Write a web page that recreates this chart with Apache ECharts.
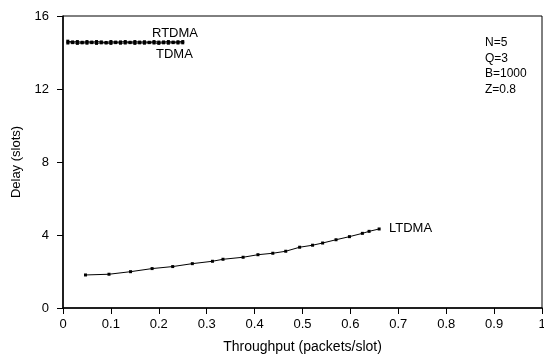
<!DOCTYPE html>
<html><head><meta charset="utf-8">
<script src="https://cdn.jsdelivr.net/npm/echarts@6/dist/echarts.min.js"></script>
<style>html,body{margin:0;padding:0;background:#fff}#c{width:544px;height:358px}</style>
</head><body><div id="c"></div>
<script>
const xTicks = [0,0.1,0.2,0.3,0.4,0.5,0.6,0.7,0.8,0.9,1];
const yTicks = [0,4,8,12,16];
const rtdmaX = [0.01,0.02,0.03,0.04,0.05,0.06,0.07,0.08,0.09,0.10,0.11,0.12,0.13,0.14,0.15,0.16,0.17,0.18,0.19,0.20,0.21,0.22,0.23,0.24,0.25];
const rtdmaY = [14.62,14.58,14.6,14.56,14.6,14.57,14.6,14.58,14.55,14.6,14.57,14.58,14.6,14.56,14.6,14.57,14.59,14.56,14.6,14.57,14.58,14.6,14.57,14.59,14.6];
const tdmaX = [0.01,0.02,0.03,0.04,0.05,0.06,0.07,0.08,0.09,0.10,0.11,0.12,0.13,0.14,0.15,0.16,0.17,0.18,0.19,0.20,0.21,0.22,0.23,0.24,0.25];
const tdmaY = [14.52,14.54,14.5,14.53,14.51,14.54,14.5,14.53,14.52,14.5,14.54,14.51,14.52,14.54,14.5,14.53,14.51,14.54,14.52,14.5,14.53,14.51,14.54,14.52,14.53];
const ltdmaX = [0.047,0.096,0.141,0.186,0.229,0.270,0.312,0.334,0.376,0.407,0.438,0.465,0.494,0.521,0.542,0.570,0.598,0.625,0.639,0.660];
const ltdmaY = [1.81,1.85,1.99,2.16,2.27,2.43,2.56,2.67,2.78,2.92,3.0,3.11,3.33,3.44,3.56,3.74,3.91,4.09,4.2,4.33];
const params = ['N=5','Q=3','B=1000','Z=0.8'];
const zip = (a,b)=>a.map((v,i)=>[v,b[i]]);
const font = 'Liberation Sans, Arial, sans-serif';
const chart = echarts.init(document.getElementById('c'));
const lineS = (name, xs, ys) => ({
  name, type:'line', data: zip(xs,ys), symbol:'rect', symbolSize:3,
  lineStyle:{color:'#000',width:1}, itemStyle:{color:'#000'}, animation:false, smooth:false
});
chart.setOption({
  animation:false,
  grid:{left:63,right:2,top:16,bottom:50,show:true,borderColor:'#000',borderWidth:1,
    containLabel:false,outerBoundsMode:'none'},
  xAxis:{type:'value',min:0,max:1,interval:0.1,
    axisLine:{lineStyle:{color:'#000',width:1.5}},
    axisTick:{show:true,length:6,lineStyle:{color:'#000'}},
    splitLine:{show:false},
    axisLabel:{color:'#000',fontFamily:font,fontSize:13,margin:10,hideOverlap:false,
      formatter:v=>{const t=xTicks.find(x=>Math.abs(x-v)<1e-9);return t===undefined?'':String(t);}},
    name:'Throughput (packets/slot)',nameLocation:'middle',nameGap:32,
    nameTextStyle:{color:'#000',fontFamily:font,fontSize:14}},
  yAxis:{type:'value',min:0,max:16,interval:4,
    axisLine:{lineStyle:{color:'#000',width:1.5}},
    axisTick:{show:true,length:6,lineStyle:{color:'#000'}},
    splitLine:{show:false},
    axisLabel:{color:'#000',fontFamily:font,fontSize:13,margin:14,
      formatter:v=>yTicks.includes(v)?String(v):''},
    name:'Delay (slots)',nameLocation:'middle',nameGap:40,
    nameTextStyle:{color:'#000',fontFamily:font,fontSize:13}},
  series:[lineS('RTDMA',rtdmaX,rtdmaY),lineS('TDMA',tdmaX,tdmaY),lineS('LTDMA',ltdmaX,ltdmaY)],
  graphic:[
    {type:'text',left:152,top:27,style:{text:'RTDMA',fill:'#000',font:'13px '+font}},
    {type:'text',left:156,top:48,style:{text:'TDMA',fill:'#000',font:'13px '+font}},
    {type:'text',left:389,top:222,style:{text:'LTDMA',fill:'#000',font:'13px '+font}},
    {type:'text',left:485,top:35,style:{text:params.join('\n'),fill:'#000',font:'12px '+font,lineHeight:15.5}}
  ]
});
</script></body></html>
